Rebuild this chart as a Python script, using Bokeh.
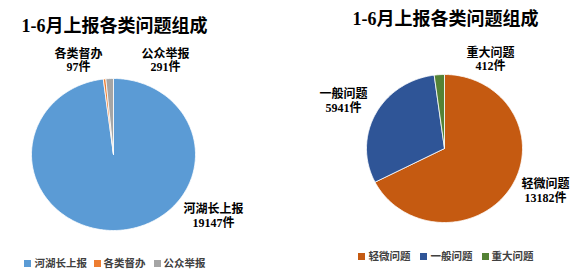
import numpy as np
from bokeh.plotting import figure
from bokeh.models import Range1d, ColumnDataSource
from bokeh.core.properties import value
from bokeh.embed import file_html
from bokeh.resources import INLINE

# ---- data ----
title_text = "1-6月上报各类问题组成"
left_cats = ["河湖长上报", "各类督办", "公众举报"]
left_vals = [19147, 97, 291]
left_colors = ["#5B9BD5", "#ED7D31", "#A5A5A5"]

right_cats = ["轻微问题", "一般问题", "重大问题"]
right_vals = [13182, 5941, 412]
right_colors = ["#C55A11", "#2F5597", "#548235"]

FONT = value("'Liberation Serif', 'Noto Sans CJK SC'")
W, H = 576, 275

p = figure(width=W, height=H, x_range=Range1d(0, W), y_range=Range1d(H, 0),
           output_backend="svg", toolbar_location=None, min_border=0,
           x_axis_type=None, y_axis_type=None)
p.grid.visible = False
p.outline_line_color = None
p.background_fill_color = "white"
p.border_fill_color = "white"


def pie(vals, colors, cx, cy, rx, ry):
    vals = np.asarray(vals, dtype=float)
    frac = vals / vals.sum()
    ends = np.cumsum(frac) * 2 * np.pi
    starts = ends - frac * 2 * np.pi
    xs, ys = [], []
    for a0, a1 in zip(starts, ends):
        n = max(3, int((a1 - a0) / (2 * np.pi) * 360))
        t = np.linspace(a0, a1, n)
        xs.append(np.concatenate([[cx], cx + rx * np.sin(t)]).tolist())
        ys.append(np.concatenate([[cy], cy - ry * np.cos(t)]).tolist())
    src = ColumnDataSource(dict(xs=xs, ys=ys, color=colors))
    p.patches("xs", "ys", source=src, fill_color="color",
              line_color="white", line_width=0.8)


def labels(texts_xy, size="12px"):
    xs = [t[1] for t in texts_xy]
    ys = [t[2] for t in texts_xy]
    txt = [t[0] for t in texts_xy]
    p.text(x=xs, y=ys, text=txt, text_font=FONT, text_font_style="bold",
           text_font_size=size, text_align="center", text_baseline="middle",
           text_color="black")


def legend(cats, colors, sq_x, txt_x, y):
    p.scatter(x=sq_x, y=[y] * len(cats), marker="square", size=7,
              fill_color=colors, line_color=None)
    p.text(x=txt_x, y=[y] * len(cats), text=cats, text_font=FONT,
           text_font_style="bold", text_font_size="10.5px",
           text_align="left", text_baseline="middle", text_color="#404040")


# ---- left pie ----
pie(left_vals, left_colors, 113, 154, 82, 76)
labels([(title_text, 114, 25)], size="18px")
labels([
    (left_cats[1], 78, 53), (f"{left_vals[1]}件", 78, 66),
    (left_cats[2], 165, 53), (f"{left_vals[2]}件", 165, 66),
    (left_cats[0], 213, 208), (f"{left_vals[0]}件", 213, 222),
])
legend(left_cats, left_colors, [27, 97, 157], [34, 103, 163], 263)

# ---- right pie ----
pie(right_vals, right_colors, 444, 148, 78, 74)
labels([(title_text, 445, 18)], size="18px")
labels([
    (right_cats[2], 490, 52), (f"{right_vals[2]}件", 490, 65),
    (right_cats[1], 343, 93), (f"{right_vals[1]}件", 343, 107),
    (right_cats[0], 545, 183), (f"{right_vals[0]}件", 545, 197),
])
legend(right_cats, right_colors, [361, 423, 485], [368, 430, 491], 256)

open("out.html", "w").write(file_html(p, INLINE))
